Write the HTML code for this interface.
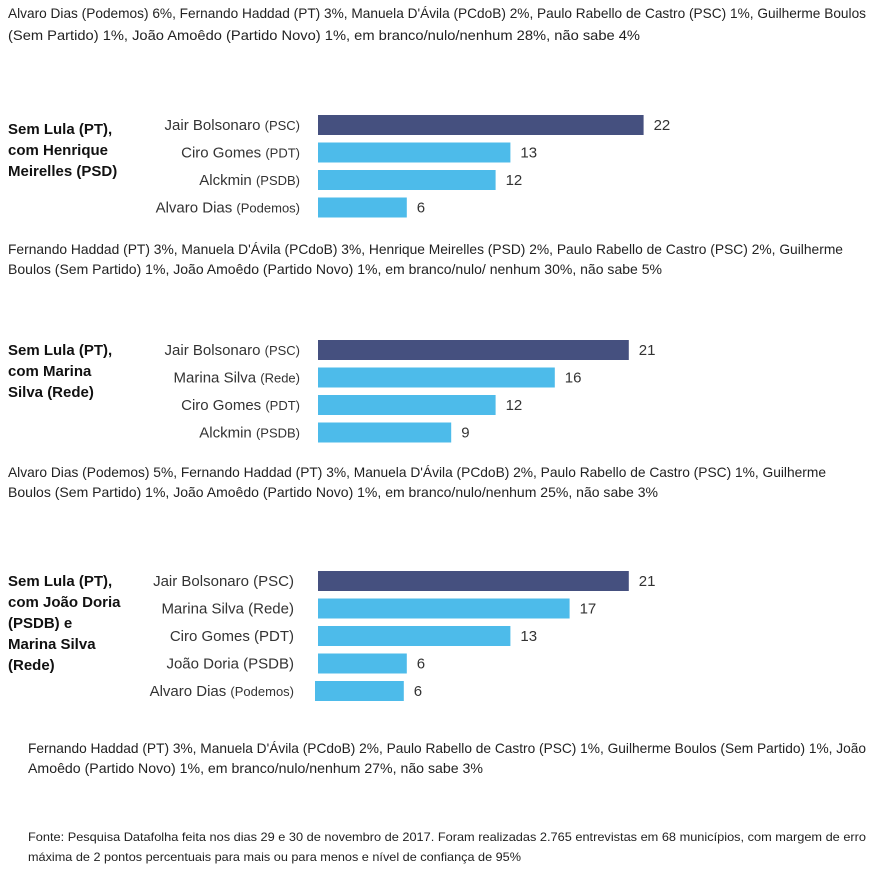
<!DOCTYPE html>
<html><head><meta charset="utf-8"><style>
body{margin:0;background:#fff}
svg{display:block;font-family:"Liberation Sans",sans-serif}
.p{font-size:14px;fill:#222}
.f{font-size:12px;fill:#222}
.t{font-size:15px;font-weight:bold;fill:#111}
.l{font-size:15px;fill:#333}
.l tspan.s{font-size:13px}
.v{font-size:15px;fill:#333}
</style></head><body>
<svg id="c" width="878" height="873">
<g>
<text class="p" x="8" y="18" textLength="858" lengthAdjust="spacingAndGlyphs">Alvaro Dias (Podemos) 6%, Fernando Haddad (PT) 3%, Manuela D'Ávila (PCdoB) 2%, Paulo Rabello de Castro (PSC) 1%, Guilherme Boulos</text>
<text class="p" x="8" y="40" textLength="632" lengthAdjust="spacingAndGlyphs">(Sem Partido) 1%, João Amoêdo (Partido Novo) 1%, em branco/nulo/nenhum 28%, não sabe 4%</text>
<text class="p" x="8" y="254" textLength="835" lengthAdjust="spacingAndGlyphs">Fernando Haddad (PT) 3%, Manuela D'Ávila (PCdoB) 3%, Henrique Meirelles (PSD) 2%, Paulo Rabello de Castro (PSC) 2%, Guilherme</text>
<text class="p" x="8" y="274" textLength="654" lengthAdjust="spacingAndGlyphs">Boulos (Sem Partido) 1%, João Amoêdo (Partido Novo) 1%, em branco/nulo/ nenhum 30%, não sabe 5%</text>
<text class="p" x="8" y="477" textLength="818" lengthAdjust="spacingAndGlyphs">Alvaro Dias (Podemos) 5%, Fernando Haddad (PT) 3%, Manuela D'Ávila (PCdoB) 2%, Paulo Rabello de Castro (PSC) 1%, Guilherme</text>
<text class="p" x="8" y="497" textLength="650" lengthAdjust="spacingAndGlyphs">Boulos (Sem Partido) 1%, João Amoêdo (Partido Novo) 1%, em branco/nulo/nenhum 25%, não sabe 3%</text>
<text class="p" x="28" y="753" textLength="838" lengthAdjust="spacingAndGlyphs">Fernando Haddad (PT) 3%, Manuela D'Ávila (PCdoB) 2%, Paulo Rabello de Castro (PSC) 1%, Guilherme Boulos (Sem Partido) 1%, João</text>
<text class="p" x="28" y="773" textLength="455" lengthAdjust="spacingAndGlyphs">Amoêdo (Partido Novo) 1%, em branco/nulo/nenhum 27%, não sabe 3%</text>
<text class="f" x="28" y="841" textLength="838" lengthAdjust="spacingAndGlyphs">Fonte: Pesquisa Datafolha feita nos dias 29 e 30 de novembro de 2017. Foram realizadas 2.765 entrevistas em 68 municípios, com margem de erro</text>
<text class="f" x="28" y="861" textLength="493" lengthAdjust="spacingAndGlyphs">máxima de 2 pontos percentuais para mais ou para menos e nível de confiança de 95%</text>
</g>
<g id="charts"></g>
</svg>
<script>
const names1 = ["Jair Bolsonaro","Ciro Gomes","Alckmin","Alvaro Dias"];
const parties1 = ["(PSC)","(PDT)","(PSDB)","(Podemos)"];
const values1 = [22,13,12,6];
const names2 = ["Jair Bolsonaro","Marina Silva","Ciro Gomes","Alckmin"];
const parties2 = ["(PSC)","(Rede)","(PDT)","(PSDB)"];
const values2 = [21,16,12,9];
const names3 = ["Jair Bolsonaro","Marina Silva","Ciro Gomes","João Doria","Alvaro Dias"];
const parties3 = ["(PSC)","(Rede)","(PDT)","(PSDB)","(Podemos)"];
const values3 = [21,17,13,6,6];
const titles1 = ["Sem Lula (PT),","com Henrique","Meirelles (PSD)"];
const titles2 = ["Sem Lula (PT),","com Marina","Silva (Rede)"];
const titles3 = ["Sem Lula (PT),","com João Doria","(PSDB) e","Marina Silva","(Rede)"];

const NS="http://www.w3.org/2000/svg";
const X0=318, K=14.8;
const xs=v=>X0+v*K;
const root=document.getElementById('charts');
function mk(tag,attrs,parent){const e=document.createElementNS(NS,tag);for(const k in attrs)e.setAttribute(k,attrs[k]);parent.appendChild(e);return e;}
function chart(idx,names,parties,values,titles,top,titleY,labelX,bigParty,lastShift){
  const g=mk('g',{},root);
  
  
  titles.forEach((t,i)=>{const e=mk('text',{class:'t',x:8,y:titleY+i*21},g);e.textContent=t;
    
    });
  values.forEach((v,i)=>{
    const yc=top+i*27.5;
    const sh=(lastShift&&i===values.length-1)?-3:0;
    const r=mk('rect',{x:X0+sh,y:yc-10,width:xs(v)-X0,height:20,fill:i===0?'#45507f':'#4dbbea'},g);
    
    
    const l=mk('text',{class:'l',x:labelX,y:yc+5,'text-anchor':'end'},g);
    
    
    l.appendChild(document.createTextNode(names[i]+' '));
    const s=mk('tspan',{class:(bigParty&&parties[i]!=='(Podemos)')?'':'s'},l);s.textContent=parties[i];
    const t=mk('text',{class:'v',x:xs(v)+10+sh,y:yc+5},g);t.textContent=v;
    
    
  });
}
chart(1,names1,parties1,values1,titles1,125,134,300,false,false);
chart(2,names2,parties2,values2,titles2,350,355,300,false,false);
chart(3,names3,parties3,values3,titles3,581,586,294,true,true);
</script>
</body></html>
